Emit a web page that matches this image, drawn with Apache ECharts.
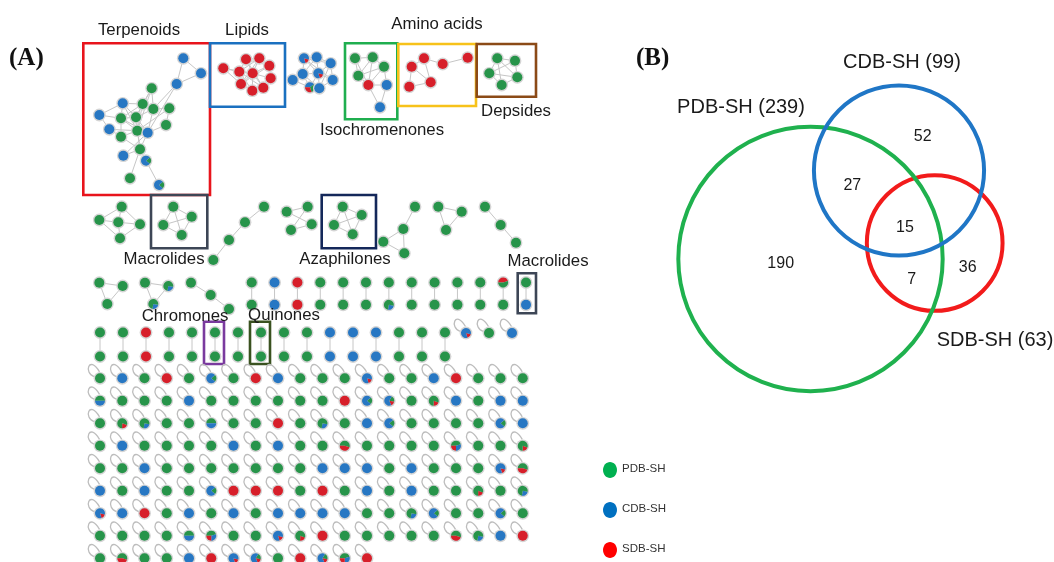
<!DOCTYPE html>
<html>
<head>
<meta charset="utf-8">
<title>Molecular network and Venn diagram</title>
<script src="https://cdn.jsdelivr.net/npm/echarts@6/dist/echarts.min.js"></script>
<style>
  html, body { margin: 0; padding: 0; background: #ffffff; }
  #chart { width: 1054px; height: 562px; }
</style>
</head>
<body>
<div id="chart"></div>
<script>
// ---------------- data ----------------
const sourceNames = ['PDB-SH', 'CDB-SH', 'SDB-SH'];
const setSizes = [239, 99, 63];
// Venn region counts: PDB only, PDB∩CDB, CDB only, all three, PDB∩SDB, SDB only
const regionCounts = [190, 27, 52, 15, 7, 36];

const familyNames = ['Terpenoids', 'Lipids', 'Amino acids', 'Isochromenones', 'Depsides',
  'Macrolides', 'Azaphilones', 'Macrolides', 'Chromones', 'Quinones'];

// node membership codes: G = PDB-SH, B = CDB-SH, R = SDB-SH, others are shared nodes
const terpenoidNodes = ['B','B','B','G','B','G','G','G','B','G','G','B','G','B','G','G','G','B','bg','G','bg'];
const terpenoidLinks = [[0,1],[0,2],[1,2],[2,6],[2,13],[3,5],[3,6],[3,10],[3,12],[4,5],[4,8],[4,9],[4,10],
  [5,6],[5,9],[5,10],[5,12],[6,7],[6,10],[6,13],[7,14],[7,12],[8,9],[8,11],[9,10],[9,12],[9,15],[10,12],
  [10,13],[10,16],[11,12],[11,15],[12,13],[12,16],[12,15],[13,14],[13,16],[13,17],[15,16],[16,17],[16,18],
  [16,19],[18,20],[9,13],[4,12]];
const lipidNodes = ['R','R','R','R','R','R','R','R','R','R'];
const lipidLinks = [[0,1],[0,5],[0,7],[1,2],[1,3],[1,5],[1,7],[1,8],[2,3],[2,5],[2,4],[3,4],[3,5],[4,5],
  [4,6],[5,6],[5,7],[5,8],[5,9],[6,9],[7,8],[8,9],[6,8],[2,9],[3,7],[1,9],[4,7]];
const blueNodes = ['br','B','B','B','br','B','B','mix3','B'];
const blueLinks = [[0,1],[0,3],[0,4],[1,2],[1,4],[2,4],[2,6],[3,4],[3,5],[3,7],[4,6],[4,8],[5,7],[6,8],
  [7,8],[0,2],[1,3],[3,8],[4,7],[0,6],[2,8]];
const isochromenoneNodes = ['G','G','G','G','R','B','B'];
const isochromenoneLinks = [[0,1],[0,3],[0,4],[1,2],[1,3],[1,4],[2,3],[2,5],[2,4],[3,4],[4,5],[4,6],[5,6]];
const aminoNodes = ['R','R','R','R','R','R'];
const aminoLinks = [[0,1],[1,2],[2,3],[0,4],[4,5],[0,5],[1,5]];
const depsideNodes = ['G','G','G','G','G'];
const depsideLinks = [[0,1],[0,2],[1,3],[2,4],[3,4],[0,3],[1,2],[0,4],[2,3]];
const smallANodes = ['G','G','G','G','G'];
const smallALinks = [[0,1],[0,2],[0,4],[1,2],[1,3],[2,3],[2,4],[3,4]];
const macrolideNodes = ['G','G','G','G'];
const macrolideLinks = [[0,1],[0,2],[0,3],[1,2],[1,3],[2,3]];
const chain4Nodes = ['G','G','G','G'];
const chain4Links = [[0,1],[1,2],[2,3]];
const crossNodes = ['G','G','G','G'];
const crossLinks = [[0,1],[0,2],[1,3],[2,3]];
const azaphiloneNodes = ['G','G','G','G'];
const azaphiloneLinks = [[0,1],[0,2],[0,3],[1,2],[1,3],[2,3]];
const fourNodes = ['G','G','G','G'];
const fourLinks = [[0,1],[1,2],[0,3],[1,3]];
const triNodes = ['G','G','G'];
const triLinks = [[0,1],[1,2],[0,2]];
const chain3Nodes = ['G','G','G'];
const chain3Links = [[0,1],[1,2]];
const tri1Nodes = ['G','G','G'];
const tri2Nodes = ['G','gb','gb'];
const chain3bNodes = ['G','G','G'];

// two-node clusters (top, bottom)
const pairsRowA = [['G','G'],['B','B'],['R','R'],['G','G'],['G','G'],['G','G'],['G','gb'],['G','G'],
  ['G','G'],['G','G'],['G','G'],['hrg','G'],['G','B']];
const pairsRowB = [['G','G'],['G','G'],['R','R'],['G','G'],['G','G'],['G','G'],['G','G'],['G','G'],
  ['G','G'],['G','G'],['B','B'],['B','B'],['B','B'],['G','G'],['G','G'],['G','G']];
// self-looped single nodes
const loopSinglesRowB = ['br','G','B'];
const singletonRows = [
  ['G','B','G','R','G','bg','G','R','B','G','G','G','br','G','G','B','R','G','G','G'],
  ['hgb','G','G','G','B','G','G','G','G','G','G','R','bg','bgr','G','gr','B','G','B','B'],
  ['G','gr','gb','G','G','hgb','G','G','R','G','gb','G','B','bg','G','G','G','G','bg','B'],
  ['G','B','G','G','G','G','B','G','B','G','G','hgr','G','G','G','G','gbr','G','G','gr'],
  ['G','G','B','G','G','G','G','G','G','G','B','B','B','G','B','G','G','G','br','hgr'],
  ['B','G','B','G','G','bg','R','R','R','G','R','G','B','G','B','G','G','gr','G','gb'],
  ['br','B','R','G','B','G','B','G','B','B','B','B','G','G','gb','bg','G','G','bg','G'],
  ['G','G','G','G','hgb','gbr','G','G','br','gr','R','G','G','G','G','G','hgr','gb','B','R'],
  ['G','hgr','G','G','B','R','br','bgr','G','R','bgr','gbr','R']
];

// share of each database in shared nodes (start angle in degrees, then [source, fraction])
const MIX = {
  G: { start: 0, parts: [['G', 1]] },
  B: { start: 0, parts: [['B', 1]] },
  R: { start: 0, parts: [['R', 1]] },
  bg: { start: -40, parts: [['G', 0.22], ['B', 0.78]] },
  gb: { start: 10, parts: [['B', 0.25], ['G', 0.75]] },
  gr: { start: 20, parts: [['R', 0.2], ['G', 0.8]] },
  br: { start: 15, parts: [['R', 0.16], ['B', 0.84]] },
  hgb: { start: 180, parts: [['G', 0.5], ['B', 0.5]] },
  hgr: { start: 180, parts: [['G', 0.55], ['R', 0.45]] },
  hrg: { start: 180, parts: [['R', 0.45], ['G', 0.55]] },
  gbr: { start: 180, parts: [['G', 0.45], ['B', 0.3], ['R', 0.25]] },
  bgr: { start: -60, parts: [['G', 0.2], ['R', 0.15], ['B', 0.65]] },
  mix3: { start: 180, parts: [['B', 0.4], ['G', 0.3], ['R', 0.3]] }
};

// ---------------- layout ----------------
const NODE_COLORS = { G: '#27944a', B: '#2777c3', R: '#d71f2a' };
const LEGEND_COLORS = ['#00b050', '#0070c0', '#ff0000'];
const VENN_COLORS = ['#1fb14e', '#1f76c6', '#f21b1b'];

const CLUSTER_LAYOUT = [
  { nodes: terpenoidNodes, links: terpenoidLinks, pos: [[183.3,58.3],[201,73.3],[176.7,84],[151.7,88.3],
    [122.7,103.3],[142.7,104],[153.3,109],[169.3,108.3],[99.3,115],[121,118.3],[136,117.3],[109.3,129.3],
    [137.3,130.7],[147.7,132.7],[166,125],[121,136.7],[140,149.3],[123.3,155.7],[146,160.7],[130,178.3],[159,185]] },
  { nodes: lipidNodes, links: lipidLinks, pos: [[223.3,68.3],[239.3,71.7],[246,59.3],[259.3,58.3],
    [269.3,65.7],[252.7,73.3],[270.7,78.3],[241,84],[252.3,90.7],[263.3,87.7]] },
  { nodes: blueNodes, links: blueLinks, pos: [[304,58.3],[316.7,57.3],[330.7,63.3],[302.7,74],[318.3,73.3],
    [292.7,80],[332.7,80],[310,87.3],[319.3,88.3]] },
  { nodes: isochromenoneNodes, links: isochromenoneLinks, pos: [[355,58.3],[372.7,57.3],[384,66.7],
    [358.3,75.7],[368.3,85],[386.7,85],[380,107.3]] },
  { nodes: aminoNodes, links: aminoLinks, pos: [[411.7,66.7],[424,58.3],[442.7,64],[467.7,57.7],
    [409.3,86.7],[430.7,82.3]] },
  { nodes: depsideNodes, links: depsideLinks, pos: [[497.3,58.3],[515,60.7],[489.3,73.3],[517.3,77.3],[501.7,85]] },
  { nodes: smallANodes, links: smallALinks, pos: [[99.3,220],[121.7,206.7],[118.3,222.3],[140,224.3],[120,238.3]] },
  { nodes: macrolideNodes, links: macrolideLinks, pos: [[173.3,206.7],[191.7,216.7],[163.3,225],[181.7,235]] },
  { nodes: chain4Nodes, links: chain4Links, pos: [[213.3,260],[229,240],[245,222.3],[264,206.7]] },
  { nodes: crossNodes, links: crossLinks, pos: [[286.7,211.7],[307.7,206.7],[311.7,224.3],[291,230]] },
  { nodes: azaphiloneNodes, links: azaphiloneLinks, pos: [[342.7,206.7],[361.7,215],[334,225],[352.7,234.3]] },
  { nodes: fourNodes, links: fourLinks, pos: [[383.3,241.7],[403.3,229],[415,206.7],[404.3,253.3]] },
  { nodes: triNodes, links: triLinks, pos: [[438.3,206.7],[461.7,211.7],[446,230]] },
  { nodes: chain3Nodes, links: chain3Links, pos: [[485,206.7],[500.7,225],[516,242.7]] },
  { nodes: tri1Nodes, links: triLinks, pos: [[99.3,282.7],[122.7,286],[107.3,304]] },
  { nodes: tri2Nodes, links: triLinks, pos: [[145,282.7],[168.3,286],[153.3,304]] },
  { nodes: chain3bNodes, links: chain3Links, pos: [[191,282.7],[210.7,295],[229,309]] }
];

const PAIR_ROWS = [
  { pairs: pairsRowA, x0: 251.7, dx: 22.86, yTop: 282.5, yBottom: 304.8 },
  { pairs: pairsRowB, x0: 100, dx: 23.0, yTop: 332.5, yBottom: 356.5 }
];
const LOOP_ROW_B = { x0: 466, dx: 23, y: 333 };
const GRID = { x0: 100, dx: 22.25, y0: 378.3, dy: 22.5 };

// annotation boxes: [x1, y1, x2, y2], colour
const BOXES = [
  [[83.3, 43.3, 210, 195], '#e8141c'],
  [[210, 43.3, 285, 106.7], '#1a70c0'],
  [[345, 43.3, 397.3, 119.3], '#1fae4f'],
  [[398.3, 44, 476, 106], '#f7c21a'],
  [[476.7, 44, 536, 96.7], '#8b4a17'],
  [[151, 195, 207.3, 248.3], '#3d4656'],
  [[321.7, 195, 376, 248.3], '#14285a'],
  [[517.7, 273.3, 536, 313.3], '#3d4656'],
  [[204, 321.7, 224, 364], '#7a3a9e'],
  [[250, 321.7, 270, 364], '#3a5220']
];
const FAMILY_LABEL_POS = [[139,30],[247,30],[437,24],[382,130],[516,111],[164,259],[345,259],[548,261],[185,316],[284,315]];

const VENN_CENTERS = [[810.5, 259], [899, 170.5], [934.7, 243]];
const VENN_RADIUS_K = 8.55;   // radius = k * sqrt(set size)
const VENN_NAME_POS = [[741, 107], [902, 62], [995, 340]];
const VENN_REGION_POS = [[780.7, 263.3], [852.3, 186], [922.7, 136.7], [905, 227.3], [911.7, 280], [967.7, 267.7]];

// ---------------- build marks ----------------
const nodeItems = [];   // [x, y]
const nodeCodes = [];
const edgeItems = [];   // [x1, y1, x2, y2]
const loopItems = [];   // [x, y]

function addNode(p, code) { nodeItems.push([p[0], p[1]]); nodeCodes.push(code); }

CLUSTER_LAYOUT.forEach(c => {
  c.links.forEach(([a, b]) => edgeItems.push([c.pos[a][0], c.pos[a][1], c.pos[b][0], c.pos[b][1]]));
  c.nodes.forEach((code, i) => addNode(c.pos[i], code));
});
PAIR_ROWS.forEach(r => {
  r.pairs.forEach((pair, i) => {
    const x = r.x0 + i * r.dx;
    edgeItems.push([x, r.yTop, x, r.yBottom]);
    addNode([x, r.yTop], pair[0]);
    addNode([x, r.yBottom], pair[1]);
  });
});
loopSinglesRowB.forEach((code, i) => {
  const p = [LOOP_ROW_B.x0 + i * LOOP_ROW_B.dx, LOOP_ROW_B.y];
  loopItems.push(p); addNode(p, code);
});
singletonRows.forEach((row, r) => {
  row.forEach((code, c) => {
    const p = [GRID.x0 + c * GRID.dx, GRID.y0 + r * GRID.dy];
    loopItems.push(p); addNode(p, code);
  });
});

const vennItems = setSizes.map((n, i) => [VENN_CENTERS[i][0], VENN_CENTERS[i][1], n, i]);
const vennDrawOrder = [2, 0, 1];

// ---------------- chart ----------------
const chart = echarts.init(document.getElementById('chart'), null, { renderer: 'canvas' });
const FONT = '"Liberation Sans", Arial, sans-serif';
const PANEL_FONT = 'bold 25px "Liberation Serif", "DejaVu Serif", serif';

chart.setOption({
  animation: false,
  backgroundColor: '#ffffff',
  grid: { left: 0, right: 0, top: 0, bottom: 0 },
  xAxis: { type: 'value', min: 0, max: 1054, show: false },
  yAxis: { type: 'value', min: 0, max: 562, inverse: true, show: false },
  graphic: [
    { type: 'text', left: 9, top: 46, style: { text: '(A)', font: PANEL_FONT, fill: '#111' } },
    { type: 'text', left: 636, top: 46, style: { text: '(B)', font: PANEL_FONT, fill: '#111' } }
  ].concat(sourceNames.flatMap((name, i) => [
    { type: 'ellipse', shape: { cx: 610, cy: 470 + i * 40, rx: 7, ry: 8 }, style: { fill: LEGEND_COLORS[i] } },
    { type: 'text', left: 622, top: 463 + i * 40, style: { text: name, font: '11.5px ' + FONT, fill: '#333' } }
  ])),
  series: [
    {
      // annotation boxes round the molecular families
      type: 'custom', coordinateSystem: 'cartesian2d', clip: false, z: 1,
      data: BOXES.map(b => b[0]),
      renderItem(params, api) {
        const p1 = api.coord([api.value(0), api.value(1)]);
        const p2 = api.coord([api.value(2), api.value(3)]);
        return { type: 'rect', shape: { x: p1[0], y: p1[1], width: p2[0] - p1[0], height: p2[1] - p1[1] },
          style: { fill: 'none', stroke: BOXES[params.dataIndex][1], lineWidth: 2.6 } };
      }
    },
    {
      // network edges
      type: 'custom', coordinateSystem: 'cartesian2d', clip: false, z: 2,
      data: edgeItems,
      renderItem(params, api) {
        const p1 = api.coord([api.value(0), api.value(1)]);
        const p2 = api.coord([api.value(2), api.value(3)]);
        return { type: 'line', shape: { x1: p1[0], y1: p1[1], x2: p2[0], y2: p2[1] },
          style: { stroke: '#c6c6c6', lineWidth: 1 } };
      }
    },
    {
      // self loops of single nodes
      type: 'custom', coordinateSystem: 'cartesian2d', clip: false, z: 2,
      data: loopItems,
      renderItem(params, api) {
        const p = api.coord([api.value(0), api.value(1)]);
        const x = p[0], y = p[1];
        return { type: 'bezierCurve',
          shape: { x1: x - 5.5, y1: y - 1.5, cpx1: x - 17, cpy1: y - 5, cpx2: x - 11, cpy2: y - 24, x2: x - 0.5, y2: y - 6.5 },
          style: { fill: 'none', stroke: '#bdbdbd', lineWidth: 1.3 } };
      }
    },
    {
      // network nodes, shared ones split by database
      type: 'custom', coordinateSystem: 'cartesian2d', clip: false, z: 3,
      data: nodeItems,
      renderItem(params, api) {
        const p = api.coord([api.value(0), api.value(1)]);
        const mix = MIX[nodeCodes[params.dataIndex]];
        const children = [{ type: 'circle', shape: { cx: p[0], cy: p[1], r: 6.4 }, style: { fill: '#d4d4d4' } }];
        if (mix.parts.length === 1) {
          children.push({ type: 'circle', shape: { cx: p[0], cy: p[1], r: 5 }, style: { fill: NODE_COLORS[mix.parts[0][0]] } });
        } else {
          let a = mix.start * Math.PI / 180;
          mix.parts.forEach(([c, f]) => {
            const b = a + f * Math.PI * 2;
            children.push({ type: 'sector', shape: { cx: p[0], cy: p[1], r0: 0, r: 5, startAngle: a, endAngle: b, clockwise: true },
              style: { fill: NODE_COLORS[c] } });
            a = b;
          });
        }
        return { type: 'group', children };
      }
    },
    {
      // family names
      type: 'custom', coordinateSystem: 'cartesian2d', clip: false, z: 4,
      data: FAMILY_LABEL_POS,
      renderItem(params, api) {
        const p = api.coord([api.value(0), api.value(1)]);
        return { type: 'text', x: p[0], y: p[1],
          style: { text: familyNames[params.dataIndex], font: '16.8px ' + FONT, fill: '#1a1a1a', align: 'center', verticalAlign: 'middle' } };
      }
    },
    {
      // Venn circles, area proportional to the set sizes
      type: 'custom', coordinateSystem: 'cartesian2d', clip: false, z: 5,
      data: vennDrawOrder.map(i => vennItems[i]),
      renderItem(params, api) {
        const p = api.coord([api.value(0), api.value(1)]);
        const r = api.size([VENN_RADIUS_K * Math.sqrt(api.value(2)), 0])[0];
        return { type: 'circle', shape: { cx: p[0], cy: p[1], r },
          style: { fill: 'none', stroke: VENN_COLORS[api.value(3)], lineWidth: 4 } };
      }
    },
    {
      // set names with sizes
      type: 'custom', coordinateSystem: 'cartesian2d', clip: false, z: 6,
      data: VENN_NAME_POS,
      renderItem(params, api) {
        const p = api.coord([api.value(0), api.value(1)]);
        const i = params.dataIndex;
        return { type: 'text', x: p[0], y: p[1],
          style: { text: sourceNames[i] + ' (' + setSizes[i] + ')', font: '20px ' + FONT, fill: '#1a1a1a', align: 'center', verticalAlign: 'middle' } };
      }
    },
    {
      // region counts
      type: 'custom', coordinateSystem: 'cartesian2d', clip: false, z: 6,
      data: VENN_REGION_POS,
      renderItem(params, api) {
        const p = api.coord([api.value(0), api.value(1)]);
        return { type: 'text', x: p[0], y: p[1],
          style: { text: String(regionCounts[params.dataIndex]), font: '16px ' + FONT, fill: '#1a1a1a', align: 'center', verticalAlign: 'middle' } };
      }
    }
  ]
});
</script>
</body>
</html>
